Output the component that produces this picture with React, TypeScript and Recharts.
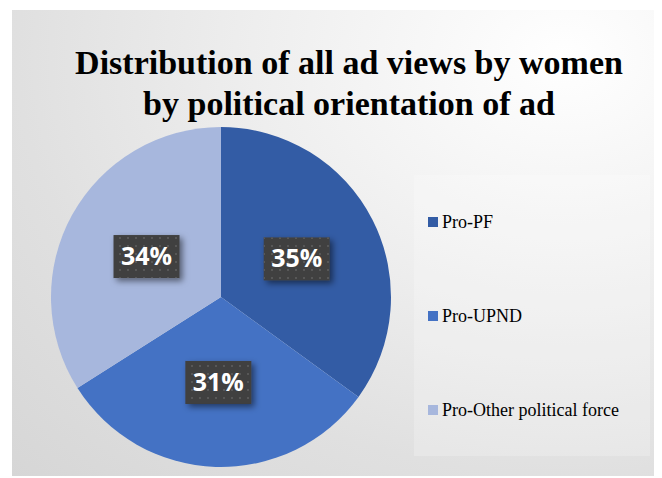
import React from "react";
import { PieChart, Pie, Cell, Legend } from "recharts";

// chart values
const categories = ["Pro-PF", "Pro-UPND", "Pro-Other political force"];
const shares = [35, 31, 34];
const colors = ["#335CA5", "#4472C4", "#A7B7DD"];
const titleLines = [
  "Distribution of all ad views by women",
  "by political orientation of ad",
];

const data = categories.map((name, i) => ({ name, value: shares[i] }));

const RAD = Math.PI / 180;

const renderLabel = (props: any) => {
  const { cx, cy, midAngle, outerRadius, value } = props;
  const r = outerRadius * 0.5;
  const x = cx + r * Math.cos(-midAngle * RAD);
  const y = cy + r * Math.sin(-midAngle * RAD);
  return (
    <g>
      <rect x={x - 33} y={y - 21} width={66} height={43} fill="#404040" filter="url(#boxShadow)" />
      <rect x={x - 33} y={y - 21} width={66} height={43} fill="url(#dots)" />
      <text
        x={x}
        y={y}
        dy={9}
        textAnchor="middle"
        fill="#ffffff"
        fontFamily="'Open Sans', sans-serif"
        fontWeight="bold"
        fontSize={25}
      >
        {value}%
      </text>
    </g>
  );
};

// legend in data order (recharts sorts the payload otherwise)
const LegendBox = () => (
  <div
    style={{
      width: 236,
      height: 281,
      position: "relative",
      background: "rgba(255,255,255,0.22)",
      fontFamily: "'Liberation Serif', serif",
      fontSize: 18,
      color: "#000",
    }}
  >
    {categories.map((c, i) => (
      <div
        key={c}
        style={{
          position: "absolute",
          left: 14,
          top: 47 + i * 94 - 11,
          height: 22,
          display: "flex",
          alignItems: "center",
          whiteSpace: "nowrap",
        }}
      >
        <span style={{ width: 10, height: 10, background: colors[i], marginRight: 4, display: "inline-block" }} />
        <span>{c}</span>
      </div>
    ))}
  </div>
);

export default function App() {
  return (
    <div
      style={{
        position: "relative",
        left: 4,
        top: 2,
        width: 650,
        height: 468,
        background:
          "radial-gradient(ellipse at 85% 10%, #ffffff 0%, #eeeeee 40%, #e0e0e0 70%, #d6d6d6 100%)",
      }}
    >
      <PieChart width={650} height={468} margin={{ top: 0, right: 0, bottom: 0, left: 0 }}>
        <defs>
          <filter id="boxShadow" x="-30%" y="-30%" width="160%" height="160%">
            <feDropShadow dx={3} dy={3} stdDeviation={3} floodColor="#000" floodOpacity={0.5} />
          </filter>
          <pattern id="dots" width={8} height={8} patternUnits="userSpaceOnUse">
            <rect x={3} y={3} width={2} height={2} fill="#575757" />
          </pattern>
        </defs>
        {titleLines.map((t, i) => (
          <text
            key={t}
            x={337}
            y={64 + i * 41}
            textAnchor="middle"
            fontFamily="'Liberation Serif', serif"
            fontWeight="bold"
            fontSize={34}
            fill="#000"
          >
            {t}
          </text>
        ))}
        <Pie
          data={data}
          dataKey="value"
          nameKey="name"
          cx={209}
          cy={287}
          outerRadius={170}
          startAngle={90}
          endAngle={-270}
          stroke="none"
          label={renderLabel}
          labelLine={false}
          isAnimationActive={false}
        >
          {data.map((d, i) => (
            <Cell key={d.name} fill={colors[i]} />
          ))}
        </Pie>
        <Legend
          content={LegendBox}
          layout="vertical"
          align="right"
          verticalAlign="middle"
          wrapperStyle={{ left: 402, top: 165, width: 236, height: 281 }}
        />
      </PieChart>
    </div>
  );
}
